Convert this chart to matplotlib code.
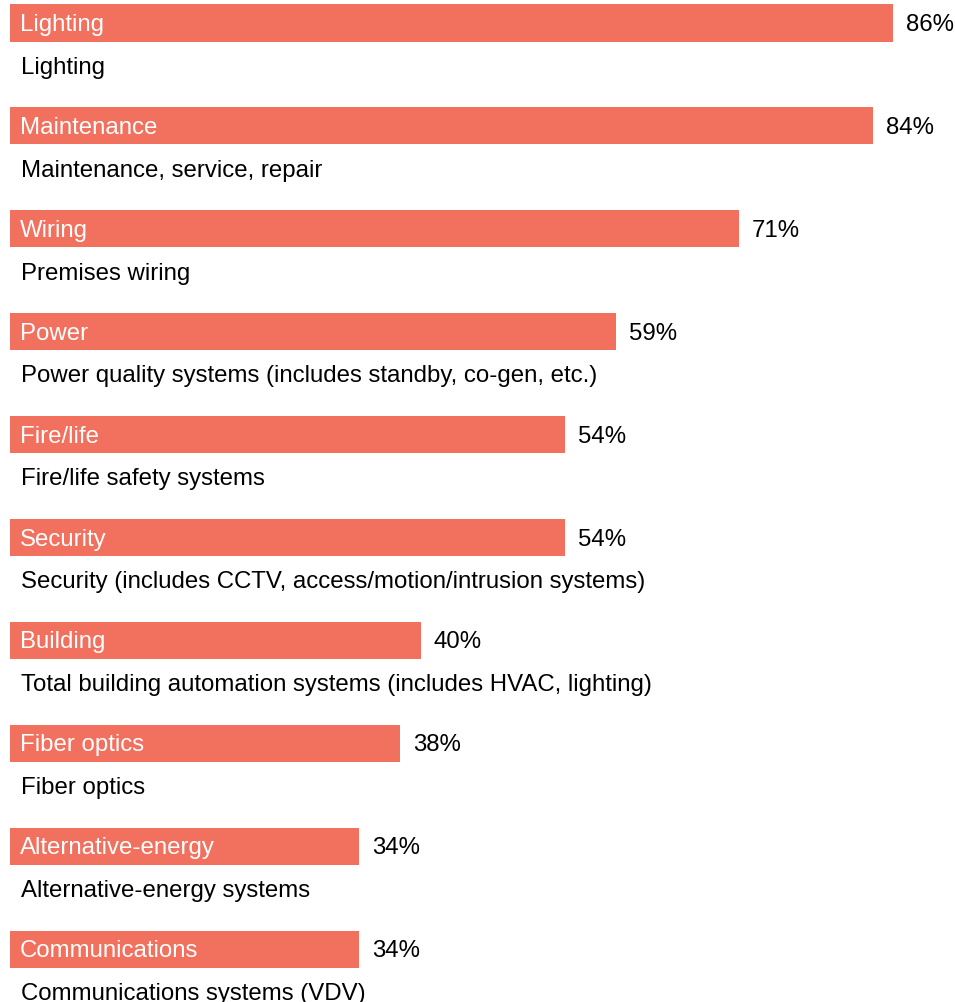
import matplotlib
matplotlib.use('Agg')
import matplotlib.pyplot as plt

short_names = ['Lighting', 'Maintenance', 'Wiring', 'Power', 'Fire/life', 'Security',
               'Building', 'Fiber optics', 'Alternative-energy', 'Communications']
long_names = ['Lighting', 'Maintenance, service, repair', 'Premises wiring',
              'Power quality systems (includes standby, co-gen, etc.)',
              'Fire/life safety systems',
              'Security (includes CCTV, access/motion/intrusion systems)',
              'Total building automation systems (includes HVAC, lighting)',
              'Fiber optics', 'Alternative-energy systems', 'Communications systems (VDV)']
values = [86, 84, 71, 59, 54, 54, 40, 38, 34, 34]

plt.rcParams['font.family'] = ['Liberation Sans', 'DejaVu Sans']
color = '#F2705E'
fs = 17.3

fig = plt.figure(figsize=(9.55, 10.03), dpi=100)
ax = fig.add_axes([0, 0, 1, 1])
ypos = list(range(len(values)))
ax.barh(ypos, values, height=0.36, color=color, left=0)

for i in ypos:
    ax.text(0.95, i + 0.01, short_names[i], color='white', fontsize=fs, va='center', ha='left')
    ax.text(values[i] + 1.26, i + 0.01, f'{values[i]}%', color='black', fontsize=fs, va='center', ha='left')
    ax.text(1.07, i + 0.425, long_names[i], color='black', fontsize=fs, va='center', ha='left')

ax.set_xlim(-10 / 10.27, 945 / 10.27)
ax.set_ylim((1003 - 24) / 102.9, -24 / 102.9)
ax.axis('off')
fig.savefig('out.png', dpi=100)
